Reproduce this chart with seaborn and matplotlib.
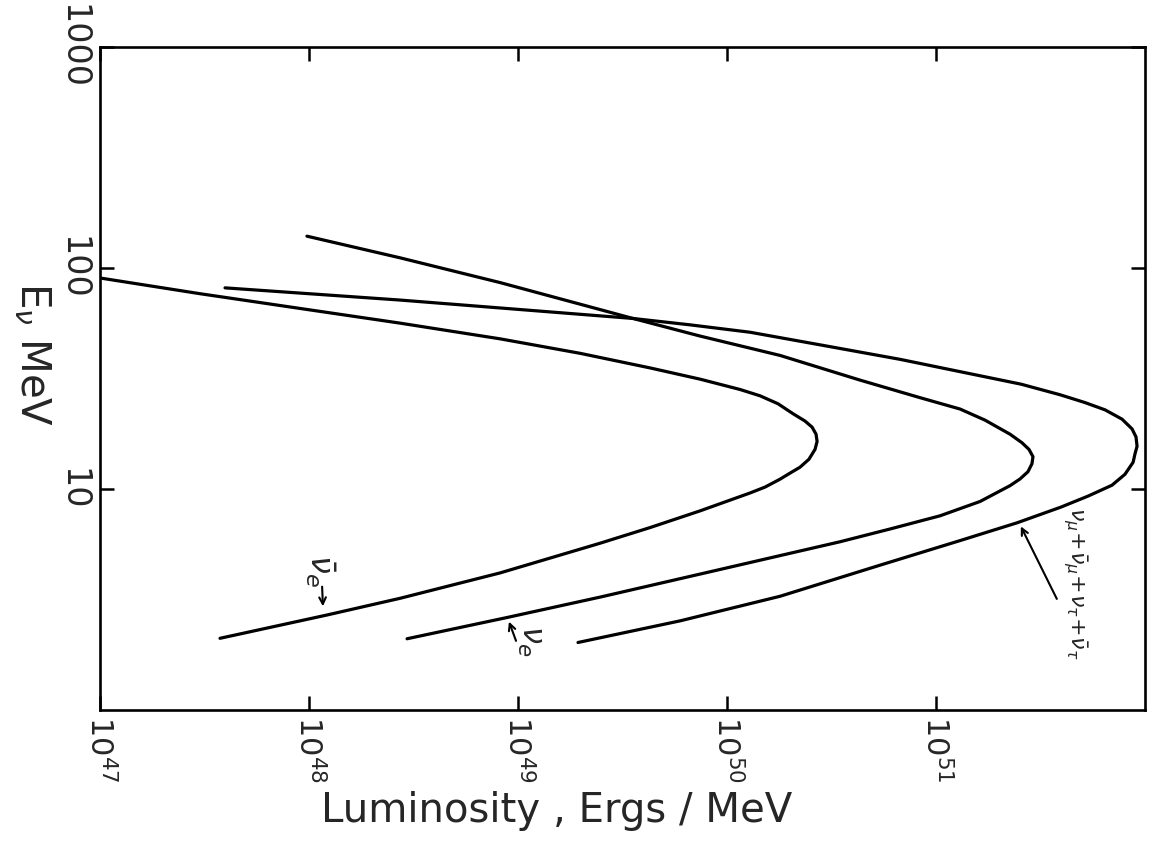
import numpy as np
import pandas as pd
import matplotlib
matplotlib.use("Agg")
import matplotlib.pyplot as plt
import seaborn as sns

# ---- data (luminosity as log10 erg/MeV, energy in MeV) ----
nuebar_logL = [47.000, 47.478, 47.957, 48.435, 48.914, 49.297, 49.632, 49.871, 50.062, 50.158,
               50.244, 50.316, 50.373, 50.407, 50.426, 50.431, 50.421, 50.392, 50.349, 50.301,
               50.254, 50.182, 50.110, 49.871, 49.632, 49.392, 48.914, 48.435, 48.086, 47.574]
nuebar_E = [90.1, 76.5, 65.6, 56.3, 47.8, 41.1, 35.3, 31.4, 28.2, 26.4,
            24.3, 21.9, 20.3, 19.05, 17.7, 16.4, 15.1, 13.63, 12.54, 11.79,
            11.08, 10.20, 9.59, 7.96, 6.69, 5.68, 4.17, 3.20, 2.69, 2.11]

nue_logL = [47.990, 48.435, 48.914, 49.550, 49.871, 50.254, 50.636, 50.923, 51.115, 51.234,
            51.354, 51.411, 51.445, 51.464, 51.459, 51.440, 51.402, 51.354, 51.211, 51.019,
            50.780, 50.541, 50.349, 49.871, 49.392, 48.947, 48.469]
nue_E = [139.3, 111.2, 85.9, 59.1, 49.2, 40.2, 31.1, 25.9, 23.0, 20.5,
         17.7, 16.2, 15.1, 14.0, 13.0, 11.97, 11.1, 10.35, 8.78, 7.56,
         6.59, 5.77, 5.24, 4.12, 3.24, 2.62, 2.10]

numu_logL = [47.598, 48.435, 49.550, 49.823, 50.110, 50.445, 50.828, 51.407, 51.593, 51.713,
             51.809, 51.890, 51.938, 51.957, 51.962, 51.952, 51.943, 51.904, 51.842, 51.727,
             51.598, 51.388, 51.115, 50.732, 50.254, 49.775, 49.287]
numu_E = [81.3, 71.6, 59.1, 55.3, 51.2, 44.9, 38.6, 29.8, 26.7, 24.6,
          22.8, 20.7, 18.7, 17.2, 15.6, 14.4, 13.2, 11.65, 10.40, 9.28,
          8.28, 7.03, 5.84, 4.52, 3.27, 2.53, 2.02]

x_tick_exps = [47, 48, 49, 50, 51]
y_ticks = [10, 100, 1000]
y_tick_labels = ["10", "100", "1000"]

sns.set_theme(style="ticks")
plt.rcParams["font.family"] = ["DejaVu Sans"]
plt.rcParams["mathtext.fontset"] = "dejavusans"

fig = plt.figure(figsize=(11.54, 8.56), dpi=100)
ax = fig.add_axes([0.0867, 0.1706, 0.9055, 0.7745])
ax.set_xscale("log")
ax.set_yscale("log")

for logL, E in [(nuebar_logL, nuebar_E), (nue_logL, nue_E), (numu_logL, numu_E)]:
    df = pd.DataFrame({"L": 10.0 ** np.array(logL), "E": E})
    sns.lineplot(data=df, x="L", y="E", sort=False, estimator=None, color="black",
                 linewidth=2.3, ax=ax)

ax.set_xlim(1e47, 1e52)
ax.set_ylim(1, 1000)

ax.set_xticks([10.0 ** e for e in x_tick_exps])
ax.set_xticklabels([rf"$10^{{{e}}}$" for e in x_tick_exps], rotation=-90,
                   ha="center", va="top", fontsize=22)
ax.set_yticks(y_ticks)
ax.set_yticklabels(y_tick_labels, rotation=-90, ha="right", va="center", fontsize=24)
ax.minorticks_off()
ax.tick_params(axis="both", which="major", direction="in", length=10, width=1.8,
               top=True, right=True, color="black")
ax.tick_params(axis="x", pad=4)
ax.tick_params(axis="y", pad=8)
for s in ax.spines.values():
    s.set_linewidth(1.9)
    s.set_color("black")
ax.set_xlabel("")
ax.set_ylabel("")

fig.text(0.482, 0.052, "Luminosity , Ergs / MeV", ha="center", va="center", fontsize=29)
fig.text(0.028, 0.586, r"$\mathregular{E}_{\nu}$ MeV", ha="center", va="center",
         rotation=-90, fontsize=29)

# curve labels
ax.text(10 ** 48.053, 4.27, r"$\bar{\nu}_e$", rotation=-90, ha="center", va="center", fontsize=23)
ax.annotate("", xy=(10 ** 48.067, 2.86), xytext=(10 ** 48.062, 3.72),
            arrowprops=dict(arrowstyle="->", lw=1.5, color="black"))
ax.text(10 ** 49.057, 2.07, r"$\nu_e$", rotation=-90, ha="center", va="center", fontsize=22)
ax.annotate("", xy=(10 ** 48.952, 2.58), xytext=(10 ** 48.995, 2.00),
            arrowprops=dict(arrowstyle="->", lw=1.5, color="black"))
ax.text(10 ** 51.665, 3.73, r"$\nu_\mu\!+\!\bar{\nu}_\mu\!+\!\nu_\tau\!+\!\bar{\nu}_\tau$",
        rotation=-90, ha="center", va="center", fontsize=16)
ax.annotate("", xy=(10 ** 51.40, 6.95), xytext=(10 ** 51.584, 3.10),
            arrowprops=dict(arrowstyle="->", lw=1.5, color="black"))

fig.savefig("out.png", dpi=100, facecolor="white")
